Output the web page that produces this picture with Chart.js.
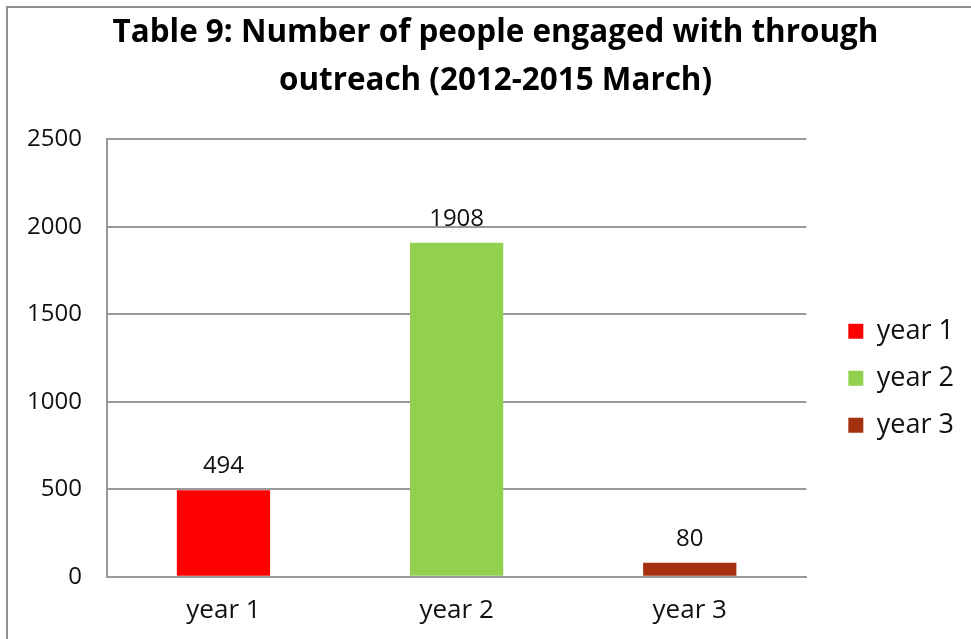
<!DOCTYPE html>
<html>
<head>
<meta charset="utf-8">
<script src="https://cdn.jsdelivr.net/npm/chart.js@4"></script>
<style>
  html, body { margin: 0; padding: 0; background: #fff; }
  #wrap { width: 971px; height: 639px; position: relative; }
</style>
</head>
<body>
<div id="wrap"><canvas id="outreachChart"></canvas></div>
<script>
const categories = ['year 1', 'year 2', 'year 3'];
const peopleEngaged = [494, 1908, 80];
const barColors = ['#FF0000', '#92D050', '#A5300F'];
const yTicks = [0, 500, 1000, 1500, 2000, 2500];

const fontFamily = '"Open Sans", Lato, sans-serif';

// one dataset per year so each bar gets its own legend entry
const datasets = categories.map((name, i) => ({
  label: name,
  data: categories.map((c, j) => (j === i ? peopleEngaged[i] : null)),
  backgroundColor: barColors[i],
  borderWidth: 0
}));

// value printed above each bar
const valueLabels = {
  id: 'valueLabels',
  afterDatasetsDraw(chart) {
    const ctx = chart.ctx;
    ctx.save();
    ctx.font = '24px ' + fontFamily;
    ctx.fillStyle = '#111';
    ctx.textAlign = 'center';
    ctx.textBaseline = 'alphabetic';
    chart.data.datasets.forEach((ds, i) => {
      chart.getDatasetMeta(i).data.forEach((bar, j) => {
        if (ds.data[j] == null) return;
        ctx.fillText(String(ds.data[j]), bar.x, bar.y - 17);
      });
    });
    ctx.restore();
  }
};

// grey frame along the top and left edge
const frame = {
  id: 'frame',
  beforeDraw(chart) {
    const ctx = chart.ctx;
    ctx.save();
    ctx.strokeStyle = '#8f8f8f';
    ctx.lineWidth = 2;
    ctx.beginPath();
    ctx.moveTo(7, chart.height);
    ctx.lineTo(7, 7);
    ctx.lineTo(chart.width, 7);
    ctx.stroke();
    ctx.restore();
  }
};

const ctx = document.getElementById('outreachChart').getContext('2d');
const chart = new Chart(ctx, {
  type: 'bar',
  data: { labels: categories, datasets: datasets },
  plugins: [frame, valueLabels],
  options: {
    responsive: true,
    maintainAspectRatio: false,
    animation: false,
    grouped: false,
    barPercentage: 0.4,
    categoryPercentage: 1,
    layout: { padding: { left: 27, right: 7, top: 0, bottom: 13 } },
    plugins: {
      title: {
        display: true,
        text: ['Table 9: Number of people engaged with through', 'outreach (2012-2015 March)'],
        color: '#000',
        font: { family: fontFamily, size: 31.4, weight: 'bold', lineHeight: 1.5 },
        padding: { top: 10, bottom: 35 }
      },
      legend: {
        position: 'right',
        fullSize: false,
        title: { display: true, text: '', padding: { top: 13, bottom: 13 } },
        labels: {
          boxWidth: 15,
          boxHeight: 15,
          padding: 20,
          color: '#111',
          font: { family: fontFamily, size: 27 }
        }
      },
      tooltip: { enabled: false }
    },
    scales: {
      x: {
        grid: { display: false, drawTicks: false },
        border: { color: '#999', width: 2 },
        ticks: { color: '#111', padding: 18, font: { family: fontFamily, size: 26 } },
        // tick padding is counted twice in the fitted height
        afterFit(scale) { scale.height -= 18; }
      },
      y: {
        min: 0,
        max: 2500,
        afterBuildTicks(scale) { scale.ticks = yTicks.map(v => ({ value: v })); },
        grid: { color: '#999', lineWidth: 2, drawTicks: false },
        border: { color: '#999', width: 2 },
        ticks: {
          color: '#111',
          padding: 25,
          font: { family: fontFamily, size: 24 },
          callback: (v) => String(v)
        },
        afterFit(scale) { scale.width -= 25; }
      },
      // empty axis that keeps a gap between the plot and the legend
      gap: {
        type: 'linear',
        position: 'right',
        grid: { display: false },
        border: { display: false },
        ticks: { display: false },
        afterFit(scale) { scale.width = 22; }
      }
    }
  }
});
</script>
</body>
</html>
